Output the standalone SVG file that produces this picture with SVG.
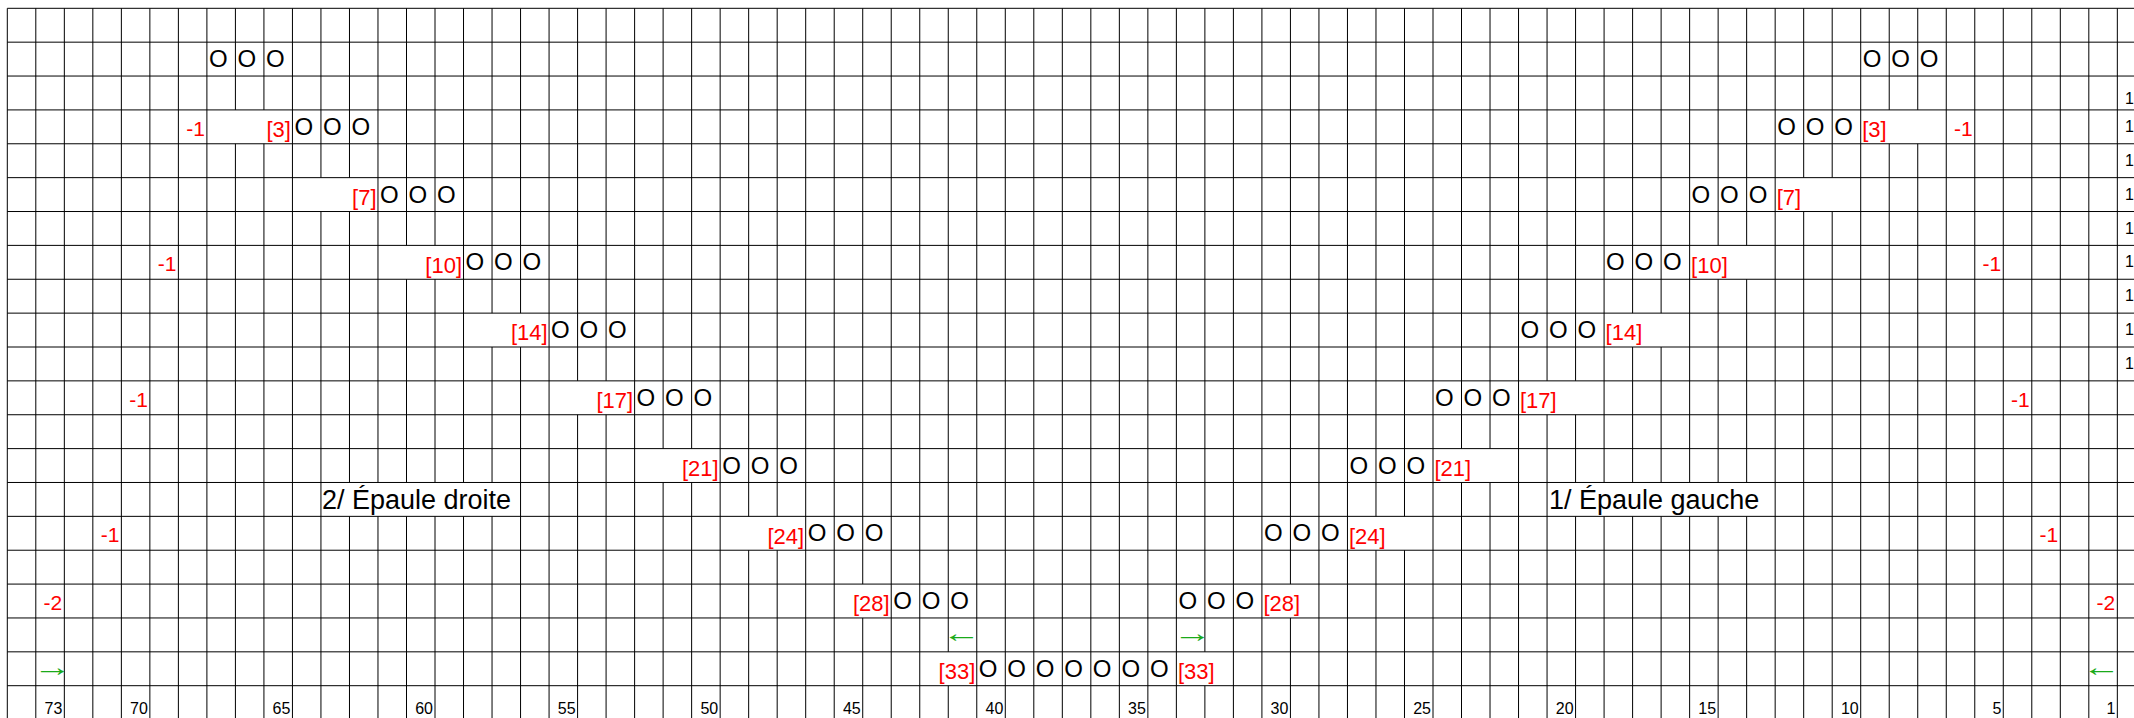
<svg xmlns="http://www.w3.org/2000/svg" width="2134" height="718" viewBox="0 0 2134 718">
<style>
text{font-family:"Liberation Sans",Arial,sans-serif}
.o{font-size:24px;fill:#000}
.lb{font-size:22px;fill:#ff0000}
.lbl{text-anchor:end}
.m{font-size:21px;fill:#ff0000;text-anchor:end}
.n{font-size:16px;fill:#000;text-anchor:end}
.rn{font-size:16px;fill:#000}
.t{font-size:27px;fill:#000}
.ar{font-size:26px;fill:#1aaa1a}
.grid{fill:none;stroke:#000;stroke-width:1}
</style>
<rect x="0" y="0" width="2134" height="718" fill="#fff"/>
<g id="connectors" class="grid">
<path d="M7.3 8.3H2134M7.3 42.17H2134M7.3 76.04H2134M7.3 109.91H2134M7.3 143.78H2134M7.3 177.65H2134M7.3 211.52H2134M7.3 245.39H2134M7.3 279.26H2134M7.3 313.13H2134M7.3 347H2134M7.3 380.87H2134M7.3 414.74H2134M7.3 448.61H2134M7.3 482.48H2134M7.3 516.35H2134M7.3 550.22H2134M7.3 584.09H2134M7.3 617.96H2134M7.3 651.83H2134M7.3 685.7H2134"/>
<path d="M7.3 8.3V718M35.81 8.3V718M64.33 8.3V718M92.84 8.3V718M121.36 8.3V718M149.87 8.3V718M178.38 8.3V718M206.9 8.3V718
M235.41 8.3V109.91M235.41 143.78V718
M263.93 8.3V109.91M263.93 143.78V718
M292.44 8.3V718
M320.95 8.3V177.65M320.95 211.52V718
M349.47 8.3V177.65M349.47 211.52V482.48M349.47 516.35V718
M377.98 8.3V482.48M377.98 516.35V718
M406.5 8.3V245.39M406.5 279.26V482.48M406.5 516.35V718
M435.01 8.3V245.39M435.01 279.26V482.48M435.01 516.35V718
M463.52 8.3V482.48M463.52 516.35V718
M492.04 8.3V313.13M492.04 347V482.48M492.04 516.35V718
M520.55 8.3V313.13M520.55 347V718
M549.07 8.3V718
M577.58 8.3V380.87M577.58 414.74V718
M606.09 8.3V380.87M606.09 414.74V718
M634.61 8.3V718
M663.12 8.3V448.61M663.12 482.48V718
M691.64 8.3V448.61M691.64 482.48V718
M720.15 8.3V718
M748.66 8.3V516.35M748.66 550.22V718
M777.18 8.3V516.35M777.18 550.22V718
M805.69 8.3V718M834.21 8.3V718
M862.72 8.3V584.09M862.72 617.96V718
M891.23 8.3V718M919.75 8.3V718
M948.26 8.3V651.83M948.26 685.7V718
M976.78 8.3V718M1005.29 8.3V718M1033.8 8.3V718M1062.32 8.3V718M1090.83 8.3V718M1119.35 8.3V718M1147.86 8.3V718M1176.37 8.3V718
M1204.89 8.3V651.83M1204.89 685.7V718
M1233.4 8.3V718M1261.92 8.3V718
M1290.43 8.3V584.09M1290.43 617.96V718
M1318.94 8.3V718M1347.46 8.3V718
M1375.97 8.3V516.35M1375.97 550.22V718
M1404.49 8.3V516.35M1404.49 550.22V718
M1433 8.3V718
M1461.51 8.3V448.61M1461.51 482.48V718
M1490.03 8.3V448.61M1490.03 482.48V718
M1518.54 8.3V718
M1547.06 8.3V380.87M1547.06 414.74V718
M1575.57 8.3V380.87M1575.57 414.74V482.48M1575.57 516.35V718
M1604.08 8.3V482.48M1604.08 516.35V718
M1632.6 8.3V313.13M1632.6 347V482.48M1632.6 516.35V718
M1661.11 8.3V313.13M1661.11 347V482.48M1661.11 516.35V718
M1689.63 8.3V482.48M1689.63 516.35V718
M1718.14 8.3V245.39M1718.14 279.26V482.48M1718.14 516.35V718
M1746.65 8.3V245.39M1746.65 279.26V482.48M1746.65 516.35V718
M1775.17 8.3V718
M1803.68 8.3V177.65M1803.68 211.52V718
M1832.2 8.3V177.65M1832.2 211.52V718
M1860.71 8.3V718
M1889.22 8.3V109.91M1889.22 143.78V718
M1917.74 8.3V109.91M1917.74 143.78V718
M1946.25 8.3V718M1974.77 8.3V718M2003.28 8.3V718M2031.79 8.3V718M2060.31 8.3V718M2088.82 8.3V718M2117.34 8.3V718"/>
</g>
<g id="left-shoulder-stitches" class="o">
<text x="208.9" y="67.2">O</text><text x="237.4" y="67.2">O</text><text x="265.9" y="67.2">O</text>
<text x="294.4" y="134.9">O</text><text x="323" y="134.9">O</text><text x="351.5" y="134.9">O</text>
<text x="380" y="202.7">O</text><text x="408.5" y="202.7">O</text><text x="437" y="202.7">O</text>
<text x="465.5" y="270.4">O</text><text x="494" y="270.4">O</text><text x="522.6" y="270.4">O</text>
<text x="551.1" y="338.1">O</text><text x="579.6" y="338.1">O</text><text x="608.1" y="338.1">O</text>
<text x="636.6" y="405.9">O</text><text x="665.1" y="405.9">O</text><text x="693.6" y="405.9">O</text>
<text x="722.2" y="473.6">O</text><text x="750.7" y="473.6">O</text><text x="779.2" y="473.6">O</text>
<text x="807.7" y="541.4">O</text><text x="836.2" y="541.4">O</text><text x="864.7" y="541.4">O</text>
<text x="893.2" y="609.1">O</text><text x="921.8" y="609.1">O</text><text x="950.3" y="609.1">O</text>
</g>
<g id="center-stitches" class="o">
<text x="978.8" y="676.8">O</text><text x="1007.3" y="676.8">O</text><text x="1035.8" y="676.8">O</text><text x="1064.3" y="676.8">O</text><text x="1092.8" y="676.8">O</text><text x="1121.4" y="676.8">O</text><text x="1149.9" y="676.8">O</text>
</g>
<g id="right-shoulder-stitches" class="o">
<text x="1862.7" y="67.2">O</text><text x="1891.2" y="67.2">O</text><text x="1919.7" y="67.2">O</text>
<text x="1777.2" y="134.9">O</text><text x="1805.7" y="134.9">O</text><text x="1834.2" y="134.9">O</text>
<text x="1691.6" y="202.7">O</text><text x="1720.1" y="202.7">O</text><text x="1748.7" y="202.7">O</text>
<text x="1606.1" y="270.4">O</text><text x="1634.6" y="270.4">O</text><text x="1663.1" y="270.4">O</text>
<text x="1520.5" y="338.1">O</text><text x="1549.1" y="338.1">O</text><text x="1577.6" y="338.1">O</text>
<text x="1435" y="405.9">O</text><text x="1463.5" y="405.9">O</text><text x="1492" y="405.9">O</text>
<text x="1349.5" y="473.6">O</text><text x="1378" y="473.6">O</text><text x="1406.5" y="473.6">O</text>
<text x="1263.9" y="541.4">O</text><text x="1292.4" y="541.4">O</text><text x="1320.9" y="541.4">O</text>
<text x="1178.4" y="609.1">O</text><text x="1206.9" y="609.1">O</text><text x="1235.4" y="609.1">O</text>
</g>
<g id="left-counts" class="lb lbl">
<text x="290.9" y="137.2">[3]</text>
<text x="376.5" y="204.9">[7]</text>
<text x="462" y="272.7">[10]</text>
<text x="547.6" y="340.4">[14]</text>
<text x="633.1" y="408.2">[17]</text>
<text x="718.7" y="475.9">[21]</text>
<text x="804.2" y="543.6">[24]</text>
<text x="889.7" y="611.4">[28]</text>
<text x="975.3" y="679.1">[33]</text>
</g>
<g id="right-counts" class="lb">
<text x="1862.2" y="137.2">[3]</text>
<text x="1776.7" y="204.9">[7]</text>
<text x="1691.1" y="272.7">[10]</text>
<text x="1605.6" y="340.4">[14]</text>
<text x="1520" y="408.2">[17]</text>
<text x="1434.5" y="475.9">[21]</text>
<text x="1349" y="543.6">[24]</text>
<text x="1263.4" y="611.4">[28]</text>
<text x="1177.9" y="679.1">[33]</text>
</g>
<g id="decreases" class="m">
<text x="204.9" y="135.9">-1</text>
<text x="176.4" y="271.4">-1</text>
<text x="147.9" y="406.9">-1</text>
<text x="119.4" y="542.4">-1</text>
<text x="62.3" y="610.1">-2</text>
<text x="1972.8" y="135.9">-1</text>
<text x="2001.3" y="271.4">-1</text>
<text x="2029.8" y="406.9">-1</text>
<text x="2058.3" y="542.4">-1</text>
<text x="2115.3" y="610.1">-2</text>
</g>
<g id="titles" class="t">
<text x="322" y="508.5">2/ Épaule droite</text>
<text x="1549" y="508.5">1/ Épaule gauche</text>
</g>
<g id="direction-arrows" class="ar">
<text x="33.2" y="676" textLength="39" lengthAdjust="spacingAndGlyphs">→</text>
<text x="2082.2" y="676" textLength="39" lengthAdjust="spacingAndGlyphs">←</text>
<text x="942.2" y="642" textLength="39" lengthAdjust="spacingAndGlyphs">←</text>
<text x="1173.2" y="642" textLength="39" lengthAdjust="spacingAndGlyphs">→</text>
</g>
<g id="column-numbers" class="n">
<text x="62.3" y="714">73</text><text x="147.9" y="714">70</text><text x="290.4" y="714">65</text><text x="433" y="714">60</text><text x="575.6" y="714">55</text><text x="718.2" y="714">50</text><text x="860.7" y="714">45</text><text x="1003.3" y="714">40</text><text x="1145.9" y="714">35</text><text x="1288.4" y="714">30</text><text x="1431" y="714">25</text><text x="1573.6" y="714">20</text><text x="1716.1" y="714">15</text><text x="1858.7" y="714">10</text><text x="2001.3" y="714">5</text><text x="2115.3" y="714">1</text>
</g>
<g id="row-numbers" class="rn">
<text x="2125" y="104">1</text><text x="2125" y="131.9">1</text><text x="2125" y="165.8">1</text><text x="2125" y="199.6">1</text><text x="2125" y="233.5">1</text><text x="2125" y="267.4">1</text><text x="2125" y="301.3">1</text><text x="2125" y="335.1">1</text><text x="2125" y="369">1</text>
</g>
</svg>
